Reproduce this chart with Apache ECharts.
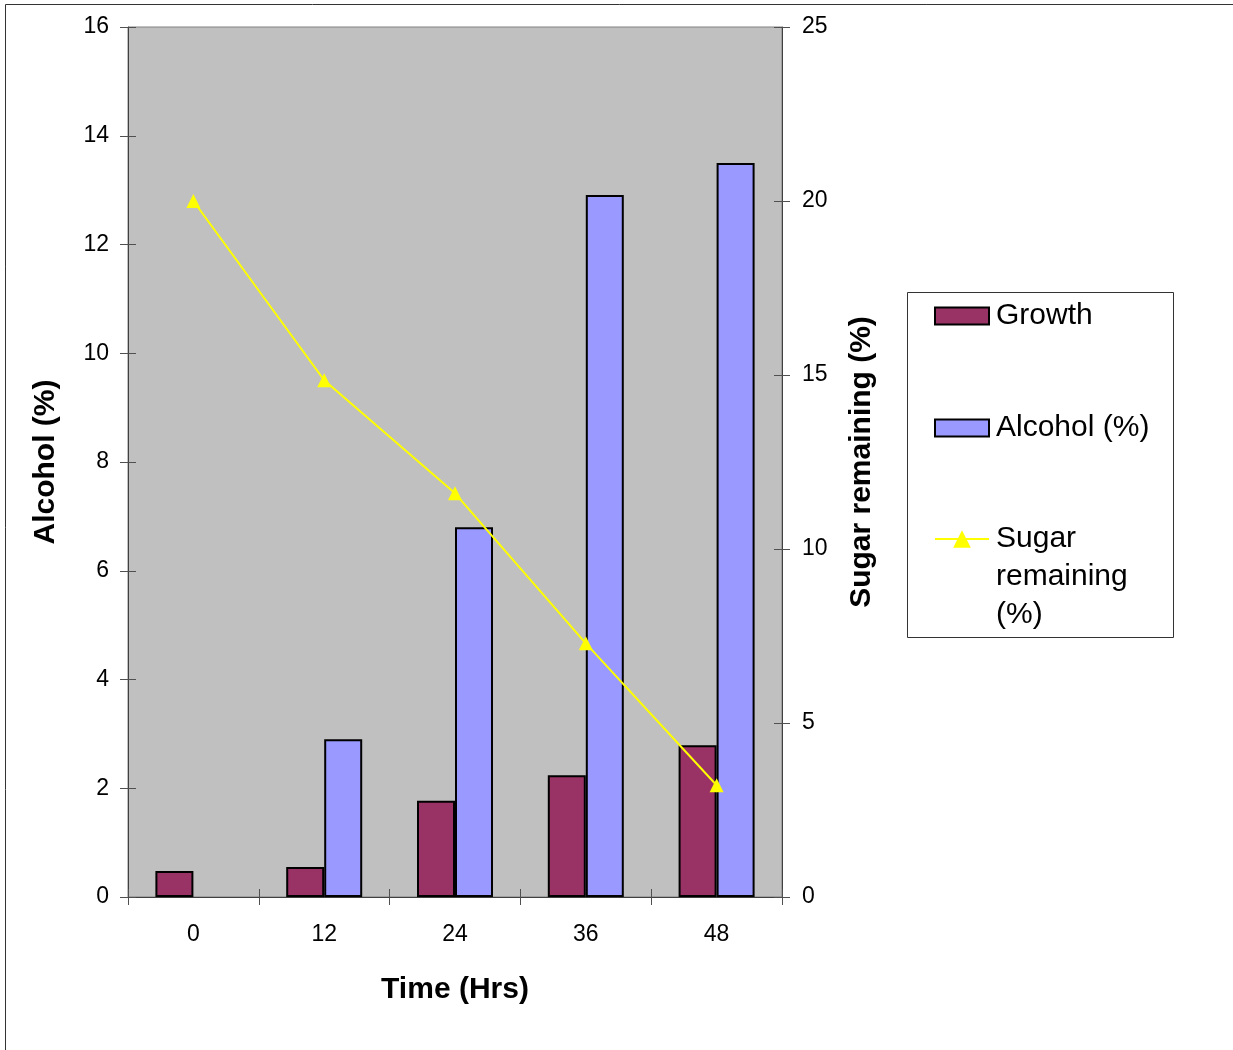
<!DOCTYPE html>
<html>
<head>
<meta charset="utf-8">
<title>Fermentation: growth, alcohol and sugar</title>
<script src="https://cdn.jsdelivr.net/npm/echarts@6/dist/echarts.min.js"></script>
<style>
  html, body { margin: 0; padding: 0; background: #ffffff; }
  #chart { width: 1233px; height: 1050px; }
</style>
</head>
<body>
<div id="chart"></div>
<script>
// Sampling times (hours)
const timeHrs = ['0', '12', '24', '36', '48'];
// Yeast growth (bars, left axis)
const growth = [0.48, 0.55, 1.77, 2.24, 2.79];
// Alcohol content in % (bars, left axis)
const alcohol = [0, 2.9, 6.8, 12.91, 13.5];
// Sugar remaining in % (line, right axis)
const sugarRemaining = [20.0, 14.85, 11.6, 7.29, 3.21];

// Axis ranges and tick steps
const alcoholAxis = { min: 0, max: 16, interval: 2 };
const sugarAxis = { min: 0, max: 25, interval: 5 };

const FONT = '"Liberation Sans", Arial, sans-serif';
const AXIS_COLOR = '#404040';
const TICK_COLOR = '#505050';

const chart = echarts.init(document.getElementById('chart'), null, { renderer: 'canvas' });

const legendText = { fontFamily: FONT, fontSize: 30, color: '#000', lineHeight: 38, padding: [0, 0, 0, 2] };

function valueAxis(pos, range, withLabels, inside, extra) {
  return Object.assign({
    type: 'value',
    position: pos,
    min: range.min,
    max: range.max,
    interval: range.interval,
    splitLine: { show: false },
    axisLine: { show: withLabels, lineStyle: { color: AXIS_COLOR, width: 1 } },
    axisTick: { show: true, inside: inside, length: 8, lineStyle: { color: TICK_COLOR, width: 1 } },
    axisLabel: { show: withLabels, fontFamily: FONT, fontSize: 23, color: '#000', margin: pos === 'left' ? 19 : 20 }
  }, extra || {});
}

// a zero-height bar is left without an outline
function barData(values) {
  return values.map(v => (v === 0 ? { value: v, itemStyle: { borderWidth: 0 } } : v));
}

const option = {
  animation: false,
  backgroundColor: '#ffffff',
  graphic: [
    // outer chart frame
    { type: 'rect', shape: { x: 5.5, y: 4.5, width: 1240, height: 1060 },
      style: { fill: 'none', stroke: '#333', lineWidth: 1 }, z: -1 },
    // legend frame
    { type: 'rect', shape: { x: 907.5, y: 292.5, width: 266, height: 345 },
      style: { fill: '#ffffff', stroke: '#333', lineWidth: 1 }, z: -1 }
  ],
  grid: {
    left: 128, right: 451, top: 27, bottom: 153,
    show: true, backgroundColor: '#c0c0c0', borderColor: '#808080', borderWidth: 1
  },
  legend: [
    { data: [{ name: 'Growth', icon: 'rect' }], left: 934, top: 297, orient: 'vertical', padding: 0,
      itemWidth: 54, itemHeight: 17, textStyle: legendText },
    { data: [{ name: 'Alcohol (%)', icon: 'rect' }], left: 934, top: 409, orient: 'vertical', padding: 0,
      itemWidth: 54, itemHeight: 17, textStyle: legendText },
    { data: ['Sugar remaining (%)'], left: 934, top: 444, orient: 'vertical', padding: 0,
      itemWidth: 54, itemHeight: 22,
      // two empty lines above keep "Sugar" level with the marker
      formatter: () => '\n\nSugar\nremaining\n(%)',
      textStyle: legendText }
  ],
  xAxis: [
    {
      type: 'category', position: 'bottom', data: timeHrs,
      name: 'Time (Hrs)', nameLocation: 'middle', nameGap: 78,
      nameTextStyle: { fontFamily: FONT, fontSize: 30, fontWeight: 'bold', color: '#000' },
      axisLine: { lineStyle: { color: AXIS_COLOR, width: 1 } },
      axisTick: { show: true, inside: false, length: 8, lineStyle: { color: TICK_COLOR } },
      axisLabel: { fontFamily: FONT, fontSize: 23, color: '#000', margin: 26 },
      splitLine: { show: false }
    },
    {
      type: 'category', position: 'bottom', data: timeHrs,
      axisLine: { show: false },
      axisTick: { show: true, inside: true, length: 8, lineStyle: { color: TICK_COLOR } },
      axisLabel: { show: false },
      splitLine: { show: false }
    }
  ],
  yAxis: [
    valueAxis('left', alcoholAxis, true, false, {
      name: 'Alcohol (%)', nameLocation: 'middle', nameGap: 67, nameRotate: 90,
      nameTextStyle: { fontFamily: FONT, fontSize: 30, fontWeight: 'bold', color: '#000' }
    }),
    valueAxis('left', alcoholAxis, false, true),
    valueAxis('right', sugarAxis, true, false, {
      name: 'Sugar remaining (%)', nameLocation: 'middle', nameGap: 65, nameRotate: 90,
      nameTextStyle: { fontFamily: FONT, fontSize: 30, fontWeight: 'bold', color: '#000' }
    }),
    valueAxis('right', sugarAxis, false, true)
  ],
  series: [
    {
      name: 'Growth', type: 'bar', xAxisIndex: 0, yAxisIndex: 0, data: barData(growth),
      barWidth: 38, barGap: '0%',
      itemStyle: { color: '#993366', borderColor: '#000', borderWidth: 2 }
    },
    {
      name: 'Alcohol (%)', type: 'bar', xAxisIndex: 0, yAxisIndex: 0, data: barData(alcohol),
      barWidth: 38, barGap: '0%',
      itemStyle: { color: '#9999ff', borderColor: '#000', borderWidth: 2 }
    },
    {
      name: 'Sugar remaining (%)', type: 'line', xAxisIndex: 0, yAxisIndex: 2, data: sugarRemaining,
      symbol: 'triangle', symbolSize: 14, showAllSymbol: true,
      lineStyle: { color: '#ffff00', width: 2 },
      itemStyle: { color: '#ffff00', borderWidth: 0 },
      z: 5
    }
  ]
};

chart.setOption(option);
</script>
</body>
</html>
